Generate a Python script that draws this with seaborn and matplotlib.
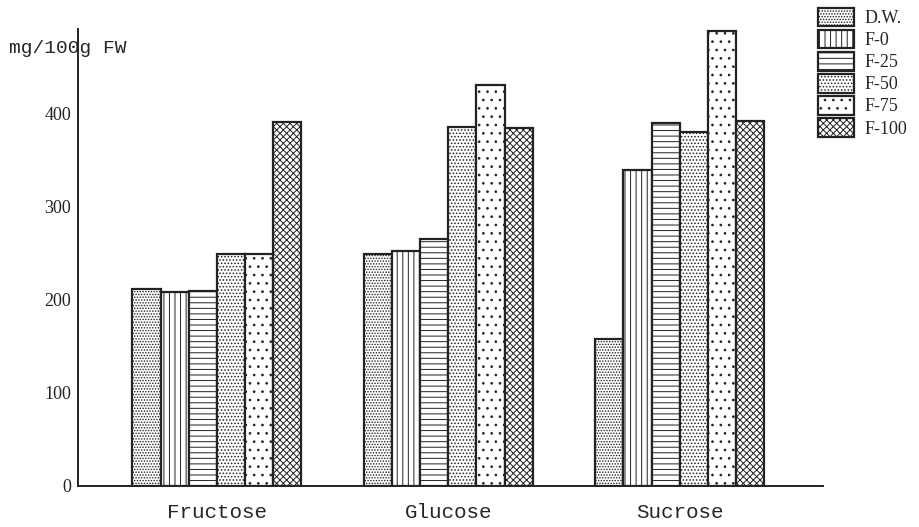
import matplotlib
matplotlib.use("Agg")
import matplotlib.pyplot as plt
from matplotlib.patches import Patch
import pandas as pd
import seaborn as sns

sugars = ["Fructose", "Glucose", "Sucrose"]
treatments = ["D.W.", "F-0", "F-25", "F-50", "F-75", "F-100"]
fructose = [211, 208, 209, 249, 249, 390]
glucose = [249, 252, 265, 385, 430, 384]
sucrose = [158, 339, 389, 380, 488, 391]
yticks = [0, 100, 200, 300, 400]

hatches = ["......", "|||", "---", ".....", "..", "xxxxx"]

rows = []
for sugar, vals in zip(sugars, [fructose, glucose, sucrose]):
    for t, v in zip(treatments, vals):
        rows.append({"sugar": sugar, "treatment": t, "value": v})
df = pd.DataFrame(rows)

sns.set_style("white")
plt.rcParams["hatch.linewidth"] = 0.7
plt.rcParams["font.family"] = ["Liberation Serif", "DejaVu Serif"]

fig = plt.figure(figsize=(9.2, 5.27), dpi=100)
ax = fig.add_axes([0.0848, 0.0778, 0.81, 0.867])

sns.barplot(data=df, x="sugar", y="value", hue="treatment", order=sugars,
            hue_order=treatments, palette=["white"] * 6, width=0.73,
            edgecolor="#222222", linewidth=1.6, legend=False, ax=ax)

for cont, h in zip(ax.containers, hatches):
    for bar in cont:
        bar.set_hatch(h)

ax.set_xlim(-0.6, 2.62)
ax.set_ylim(0, 490)
ax.set_yticks(yticks)
ax.set_yticklabels([str(t) for t in yticks], fontsize=13)
ax.set_xlabel("")
ax.set_ylabel("")
ax.set_xticks(range(len(sugars)))
ax.set_xticklabels(sugars, fontsize=15, family="Liberation Mono")
ax.tick_params(axis="x", length=0, pad=12)
ax.tick_params(axis="y", direction="out", length=4, width=1, pad=1, colors="#222222")
sns.despine(ax=ax)
for s in ["left", "bottom"]:
    ax.spines[s].set_linewidth(1.4)
    ax.spines[s].set_color("#222222")

fig.text(0.01, 0.908, "mg/100g FW", fontsize=14, family="Liberation Mono",
         va="center", ha="left")

handles = [Patch(facecolor="white", edgecolor="#222222", hatch=h, linewidth=1.6)
           for h in hatches]
fig.legend(handles, treatments, loc="upper left", bbox_to_anchor=(0.889, 0.985),
           frameon=False, fontsize=13, handlelength=2.0, handleheight=1.2,
           labelspacing=0.15, handletextpad=0.6, borderaxespad=0, borderpad=0)

fig.savefig("out.png", dpi=100)
